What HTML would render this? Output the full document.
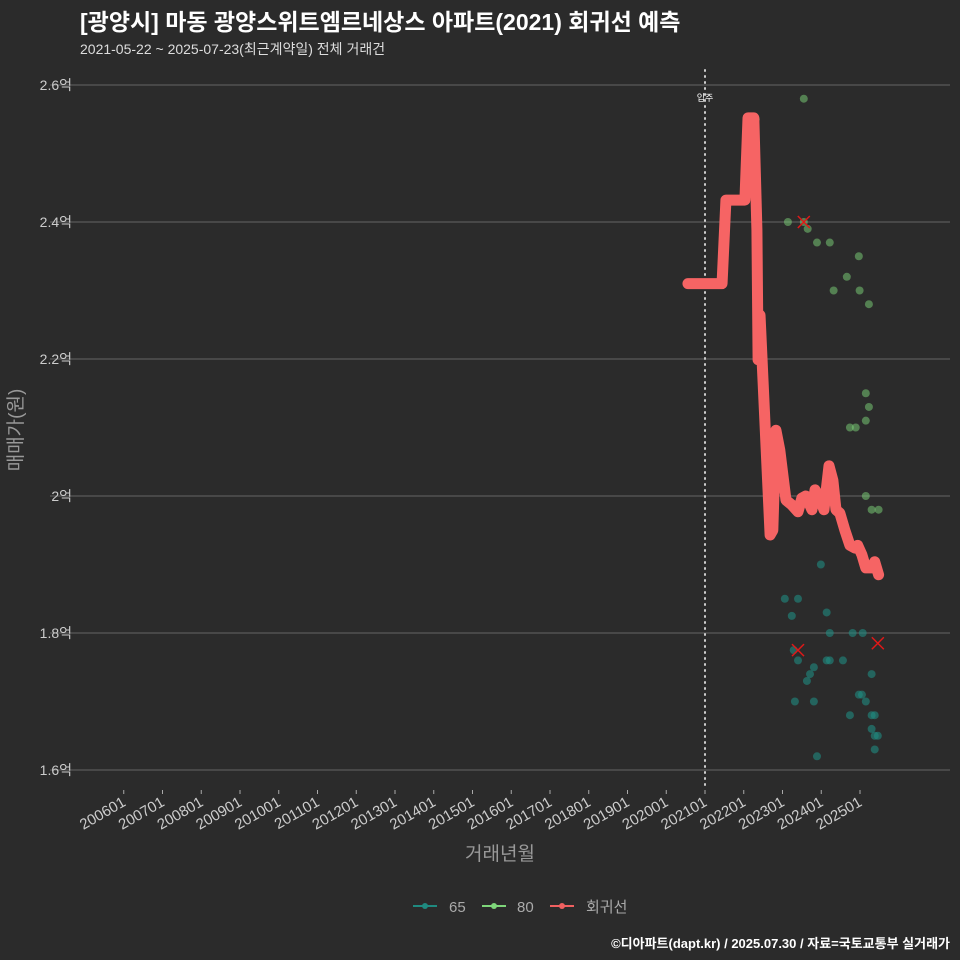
<!DOCTYPE html>
<html><head><meta charset="utf-8"><style>
body{margin:0;background:#2b2b2b;}
svg{display:block;font-family:"Liberation Sans","Noto Sans CJK KR",sans-serif;}
</style></head><body>
<svg id="c" width="960" height="960" viewBox="0 0 960 960">
<rect width="960" height="960" fill="#2b2b2b"/>
<text x="80" y="30" fill="#fff" font-size="23" font-weight="bold">[광양시] 마동 광양스위트엠르네상스 아파트(2021) 회귀선 예측</text>
<text x="80" y="54" fill="#ddd" font-size="14">2021-05-22 ~ 2025-07-23(최근계약일) 전체 거래건</text>
<g id="grid"></g><g id="marks"></g>
<text x="22" y="430" fill="#999" font-size="19" transform="rotate(-90 22 430)" text-anchor="middle">매매가(원)</text>
<text x="500" y="860" fill="#999" font-size="19" text-anchor="middle">거래년월</text>
<g>
<g><line x1="413" y1="906" x2="437" y2="906" stroke="#1f8a80" stroke-width="2"/><circle cx="425" cy="906" r="3" fill="#1f8a80"/><text x="449" y="912" fill="#aaa" font-size="15">65</text></g>
<g><line x1="482" y1="906" x2="506" y2="906" stroke="#7ed67a" stroke-width="2"/><circle cx="494" cy="906" r="3" fill="#7ed67a"/><text x="517" y="912" fill="#aaa" font-size="15">80</text></g>
<g><line x1="550" y1="906" x2="574" y2="906" stroke="#f06060" stroke-width="2"/><circle cx="562" cy="906" r="3" fill="#f06060"/><text x="586" y="912" fill="#aaa" font-size="15">회귀선</text></g>
</g>
<text x="950" y="948" fill="#fff" font-size="13" font-weight="bold" text-anchor="end">©디아파트(dapt.kr) / 2025.07.30 / 자료=국토교통부 실거래가</text>
</svg>
<script>
const yTicks=[1.6,1.8,2.0,2.2,2.4,2.6];
const yTickLabels=["1.6억","1.8억","2억","2.2억","2.4억","2.6억"];
const xTickYears=[2006,2007,2008,2009,2010,2011,2012,2013,2014,2015,2016,2017,2018,2019,2020,2021,2022,2023,2024,2025];
const moveInYear=2021;
const s65T=[2.99,2.06,2.40,2.24,3.14,3.22,3.81,4.07,2.40,3.14,3.22,3.56,2.29,2.81,2.71,2.63,2.32,2.81,3.97,4.05,4.15,4.30,3.74,4.30,4.38,4.30,4.38,4.46,4.38,2.89];
const s65V=[1.90,1.85,1.85,1.825,1.83,1.80,1.80,1.80,1.76,1.76,1.76,1.76,1.775,1.75,1.74,1.73,1.70,1.70,1.71,1.71,1.70,1.74,1.68,1.68,1.68,1.66,1.65,1.65,1.63,1.62];
const s80T=[2.55,2.14,2.55,2.65,2.89,3.22,3.66,3.97,3.32,3.99,4.23,4.15,4.23,4.15,3.74,3.89,4.15,4.30,4.48,1.31];
const s80V=[2.58,2.40,2.40,2.39,2.37,2.37,2.32,2.35,2.30,2.30,2.28,2.15,2.13,2.11,2.10,2.10,2.00,1.98,1.98,2.55];
const regT=[-0.44,0.44,0.54,1.03,1.11,1.26,1.34,1.37,1.42,1.68,1.75,1.83,1.93,2.09,2.24,2.40,2.50,2.60,2.76,2.84,2.96,3.07,3.20,3.30,3.38,3.48,3.61,3.74,3.87,3.94,4.05,4.15,4.30,4.38,4.48];
const regV=[2.31,2.31,2.432,2.432,2.552,2.552,2.388,2.199,2.264,1.943,1.95,2.096,2.067,1.994,1.987,1.977,1.997,2.0,1.98,2.009,1.997,1.98,2.044,2.023,1.98,1.975,1.95,1.928,1.924,1.928,1.914,1.895,1.895,1.904,1.885];
const lastT=[2.55,2.40,4.46];
const lastV=[2.40,1.775,1.785];
const NS="http://www.w3.org/2000/svg";
const X=t=>705+(t-2021)*38.75;
const Xo=o=>X(2021+o);
const Y=v=>770-(v-1.6)*685;
function mk(tag,at,p){const e=document.createElementNS(NS,tag);for(const k in at)e.setAttribute(k,at[k]);p.appendChild(e);return e;}
const grid=document.getElementById('grid'),marks=document.getElementById('marks');
yTicks.forEach((v,i)=>{
 const l=mk('line',{x1:50,x2:950,y1:Y(v),y2:Y(v),stroke:'#666','stroke-width':1},grid);
 
 
 const t=mk('text',{x:72,y:Y(v)+5,fill:'#ccc','font-size':14,'text-anchor':'end'},grid);
 t.textContent=yTickLabels[i];
 
 
});
xTickYears.forEach(y=>{
 const x=X(y);
 const tk=mk('line',{x1:x,x2:x,y1:790,y2:794,stroke:'#aaa'},grid);
 
 
 const t=mk('text',{x:x+3,y:805,fill:'#ccc','font-size':15,'text-anchor':'end',transform:`rotate(-30 ${x+3} 805)`},grid);
 t.textContent=y+'01';
 
 
});
const mv=mk('line',{x1:X(moveInYear),x2:X(moveInYear),y1:70,y2:790,stroke:'#ccc','stroke-width':2,'stroke-dasharray':'1 5','stroke-linecap':'round'},marks);


const mt=mk('text',{x:X(moveInYear),y:101,fill:'#fff','font-size':9,'text-anchor':'middle'},marks);
mt.textContent='입주';


s65T.forEach((t,i)=>{const c=mk('circle',{cx:Xo(t),cy:Y(s65V[i]),r:4,fill:'#1f8a80','fill-opacity':0.6},marks);
 
 });
s80T.forEach((t,i)=>{const c=mk('circle',{cx:Xo(t),cy:Y(s80V[i]),r:4,fill:'#7ed67a','fill-opacity':0.5},marks);
 
 });
const reg=mk('polyline',{points:regT.map((t,i)=>Xo(t)+','+Y(regV[i])).join(' '),fill:'none',stroke:'#f66464','stroke-width':11,'stroke-linejoin':'round','stroke-linecap':'round'},marks);


lastT.forEach((t,i)=>{const x=Xo(t),y=Y(lastV[i]);
 const g=mk('path',{d:`M${x-6},${y-6}L${x+6},${y+6}M${x+6},${y-6}L${x-6},${y+6}`,stroke:'#e01818','stroke-width':1.5},marks);
 
 });
</script>
</body></html>
